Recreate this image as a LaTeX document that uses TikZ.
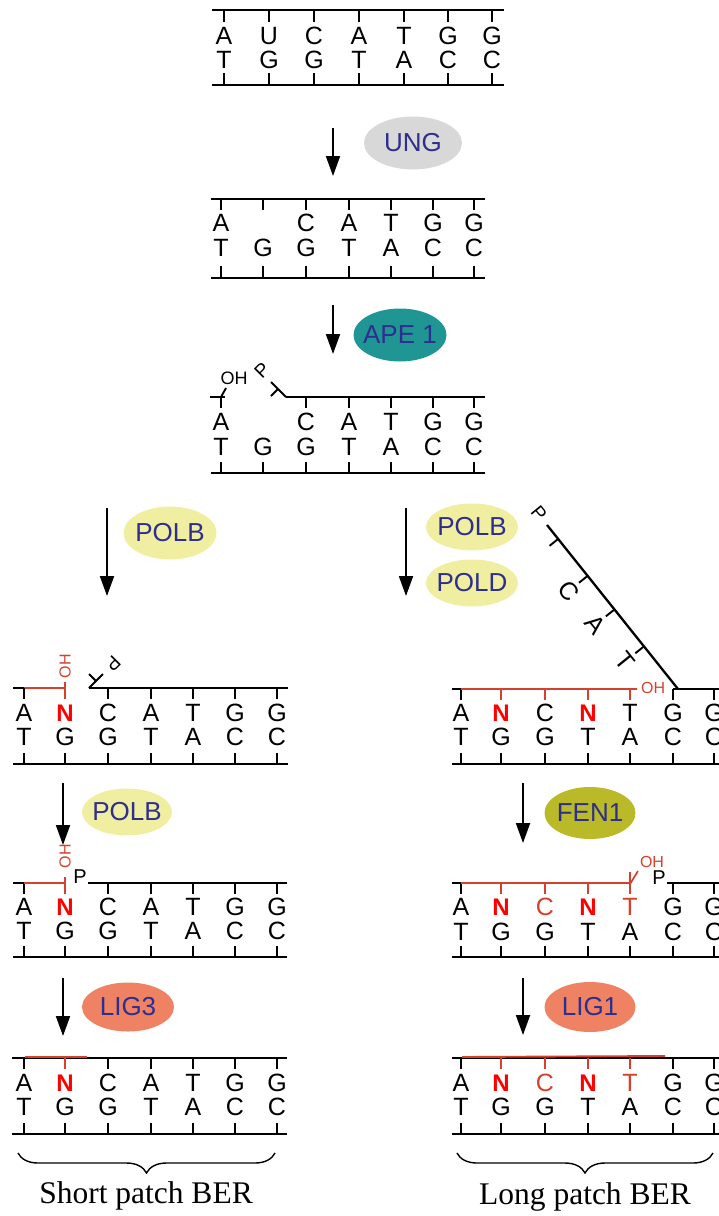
\documentclass[tikz,border=0pt]{standalone}
\usepackage{fontspec}
\setmainfont{Liberation Serif}
\newfontfamily\arial{Liberation Sans}
\usetikzlibrary{arrows.meta,decorations.pathreplacing,calc,shapes.geometric}
\definecolor{navy}{RGB}{46,46,140}
\definecolor{dnared}{RGB}{212,66,46}
\definecolor{unggray}{RGB}{216,216,216}
\definecolor{apeteal}{RGB}{32,150,148}
\definecolor{polyel}{RGB}{240,238,160}
\definecolor{fenolive}{RGB}{186,186,40}
\definecolor{ligsalmon}{RGB}{240,130,100}
\tikzset{
  strand/.style={line width=2.3pt},
  redstrand/.style={line width=1.9pt, draw=dnared},
  btick/.style={line width=1.9pt},
  rtick/.style={line width=1.7pt, draw=dnared},
  ntbase/.style={font=\arial\fontsize{25}{25}\selectfont, inner sep=0pt},
  ntnew/.style={font=\arial\bfseries\fontsize{24}{24}\selectfont, inner sep=0pt, text=red},
  ntred/.style={ntbase, text=dnared},
  ohlab/.style={font=\arial\fontsize{18}{18}\selectfont, inner sep=0pt},
  enzyme/.style={ellipse, inner sep=0pt, font=\arial\fontsize{26}{26}\selectfont, text=navy},
  rxn/.style={line width=1.9pt, -{Triangle[length=20pt,width=14pt]}},
  bracestyle/.style={line width=1.4pt, decorate, decoration={brace, mirror, amplitude=20pt}},
  patchlabel/.style={font=\fontsize{31.5}{32}\selectfont, inner sep=0pt}
}
\begin{document}
\begin{tikzpicture}[x=1pt,y=-1pt]
\useasboundingbox (0,0) rectangle (719,1216);

% ---------- Panel 1 ----------
\draw[strand] (212,10) -- (504,10);
\draw[strand] (212,85) -- (504,85);
\foreach \x/\t/\b [count=\i] in {224/A/T,269/U/G,314/C/G,359/A/T,404/T/A,448/G/C,492/G/C}{
  \node[ntbase] (pa\i) at (\x,36) {\t};
  \node[ntbase] (pb\i) at (\x,60) {\b};
  \draw[btick] (\x,10) -- (\x,22);
  \draw[btick] (\x,73) -- (\x,85);
}
\coordinate (a1s) at (333,128); \coordinate (a1e) at (333,176);
\draw[rxn] (a1s) -- (a1e);
\node[enzyme, fill=unggray, minimum width=98pt, minimum height=53pt] (ung) at (413,143) {\makebox[0pt]{UNG}};

% ---------- Panel 2 ----------
\draw[strand] (211,199) -- (485,199);
\draw[strand] (211,278) -- (485,278);
\foreach \x in {221,263,306,349,391,433,474}{
  \draw[btick] (\x,199) -- (\x,210);
  \draw[btick] (\x,266) -- (\x,278);
}
\foreach \x/\t [count=\i] in {221/A,306/C,349/A,391/T,433/G,474/G}
  \node[ntbase] (qa\i) at (\x,223) {\t};
\foreach \x/\b [count=\i] in {221/T,263/G,306/G,349/T,391/A,433/C,474/C}
  \node[ntbase] (qb\i) at (\x,248) {\b};
\coordinate (a2s) at (333,305); \coordinate (a2e) at (333,354);
\draw[rxn] (a2s) -- (a2e);
\node[enzyme, fill=apeteal, minimum width=93pt, minimum height=53pt] (ape) at (400,335) {\makebox[0pt]{APE 1}};

% ---------- Panel 3 ----------
\draw[strand] (286,397) -- (485,397);
\draw[strand] (210,397) -- (225,397);
\draw[strand] (211,473) -- (485,473);
\draw[btick] (221,397) -- (221,408);
\draw[btick] (221,397) -- (226,388);
\node[ohlab] (oh3) at (234,378) {OH};
\draw[btick] (286,397) -- (271,382);
\draw[btick] (278,389) -- (271,396);
\node[ohlab, font=\arial\fontsize{19}{19}\selectfont, rotate=45] (p3) at (262,370) {P};
\foreach \x in {306,349,391,433,474}
  \draw[btick] (\x,397) -- (\x,408);
\foreach \x in {221,263,306,349,391,433,474}
  \draw[btick] (\x,462) -- (\x,473);
\foreach \x/\t [count=\i] in {221/A,306/C,349/A,391/T,433/G,474/G}
  \node[ntbase] (ra\i) at (\x,422) {\t};
\foreach \x/\b [count=\i] in {221/T,263/G,306/G,349/T,391/A,433/C,474/C}
  \node[ntbase] (rb\i) at (\x,447) {\b};

% ---------- Branch arrows ----------
\coordinate (a3s) at (107,508); \coordinate (a3e) at (107,596);
\draw[rxn] (a3s) -- (a3e);
\node[enzyme, fill=polyel, minimum width=93pt, minimum height=53pt] (polbL) at (170,533) {\makebox[0pt]{POLB}};
\coordinate (a4s) at (406,508); \coordinate (a4e) at (406,596);
\draw[rxn] (a4s) -- (a4e);
\node[enzyme, fill=polyel, minimum width=92pt, minimum height=47pt] (polbR) at (472,527) {\makebox[0pt]{POLB}};
\node[enzyme, fill=polyel, minimum width=92pt, minimum height=47pt] (pold) at (472,583) {\makebox[0pt]{POLD}};

% ---------- Panel 4 left ----------
\draw[strand] (13,688) -- (24,688);
\draw[redstrand] (24,688) -- (65,688);
\draw[btick] (24,688) -- (24,699);
\draw[rtick] (65,682) -- (65,699);
\node[ohlab, text=dnared, font=\arial\fontsize{16}{16}\selectfont, rotate=90] (oh4l) at (65,666) {OH};
\draw[strand] (89,688) -- (288,688);
\draw[btick] (89,688) -- (103,674);
\draw[btick] (96,681) -- (89,674);
\node[ohlab, font=\arial\fontsize{19}{19}\selectfont, rotate=225] (p4l) at (113,664) {P};
\draw[strand] (13,764) -- (288,764);
\foreach \x in {108,151,193,235,277}
  \draw[btick] (\x,688) -- (\x,699);
\foreach \x in {24,65,108,151,193,235,277}
  \draw[btick] (\x,753) -- (\x,764);
\node[ntbase] (sa1) at (24,713) {A};
\node[ntnew] (sa2) at (65,713) {N};
\foreach \x/\t [count=\i from 3] in {108/C,151/A,193/T,235/G,277/G}
  \node[ntbase] (sa\i) at (\x,713) {\t};
\foreach \x/\b [count=\i] in {24/T,65/G,108/G,151/T,193/A,235/C,277/C}
  \node[ntbase] (sb\i) at (\x,737) {\b};

% ---------- Panel 4 right ----------
\draw[strand] (452,689) -- (461,689);
\draw[btick] (461,689) -- (461,700);
\draw[redstrand] (461,689) -- (637,689);
\foreach \x in {501,545,588,630}
  \draw[rtick] (\x,689) -- (\x,700);
\node[ohlab, text=dnared, font=\arial\fontsize{16}{16}\selectfont, anchor=west] (oh4r) at (641,688) {OH};
\draw[strand] (673,689) -- (719,689);
\foreach \x in {673,714}
  \draw[btick] (\x,689) -- (\x,700);
\draw[strand] (452,764) -- (719,764);
\foreach \x in {461,501,545,588,630,673,714}
  \draw[btick] (\x,753) -- (\x,764);
\node[ntbase] (ta1) at (461,713) {A};
\node[ntnew] (ta2) at (501,713) {N};
\node[ntbase] (ta3) at (545,713) {C};
\node[ntnew] (ta4) at (588,713) {N};
\node[ntbase] (ta5) at (630,713) {T};
\node[ntbase] (ta6) at (673,713) {G};
\node[ntbase] (ta7) at (714,713) {G};
\foreach \x/\b [count=\i] in {461/T,501/G,545/G,588/T,630/A,673/C,714/C}
  \node[ntbase] (tb\i) at (\x,737) {\b};
% flap
\coordinate (flA) at (678,689);
\coordinate (flB) at (547,525);
\draw[strand] (flA) -- (flB);
\node[ohlab, font=\arial\fontsize{19}{19}\selectfont, rotate=-51] (pfl) at (539,513) {P};
\foreach \f/\t [count=\i] in {0.26/T,0.485/A,0.69/C}{
  \coordinate (fl\i) at ($(flA)!\f!(flB)$);
  \draw[btick] (fl\i) -- ++(-8.6,6.9);
  \node[ntbase, rotate=-51] (flt\i) at ($(fl\i)+(-19,15)$) {\t};
}
\coordinate (fl4) at ($(flA)!0.915!(flB)$);
\draw[btick] (fl4) -- ++(-8.6,6.9);

% ---------- step 2 arrows ----------
\coordinate (a5s) at (63,783); \coordinate (a5e) at (63,845);
\draw[rxn] (a5s) -- (a5e);
\node[enzyme, fill=polyel, minimum width=90pt, minimum height=47pt] (polb2) at (127,812) {\makebox[0pt]{POLB}};
\coordinate (a6s) at (523,783); \coordinate (a6e) at (523,843);
\draw[rxn] (a6s) -- (a6e);
\node[enzyme, fill=fenolive, minimum width=91pt, minimum height=52pt] (fen) at (590,813) {\makebox[0pt]{FEN1}};

% ---------- Panel 5 left ----------
\draw[strand] (13,883) -- (24,883);
\draw[btick] (24,883) -- (24,894);
\draw[redstrand] (24,883) -- (65,883);
\draw[rtick] (65,877) -- (65,894);
\node[ohlab, text=dnared, font=\arial\fontsize{16}{16}\selectfont, rotate=90] (oh5l) at (65,856) {OH};
\node[ohlab, font=\arial\fontsize{20}{20}\selectfont] (p5l) at (80,877) {P};
\draw[strand] (88,883) -- (287,883);
\foreach \x in {108,151,193,235,277}
  \draw[btick] (\x,883) -- (\x,894);
\draw[strand] (13,957) -- (287,957);
\foreach \x in {24,65,108,151,193,235,277}
  \draw[btick] (\x,946) -- (\x,957);
\node[ntbase] (ua1) at (24,907) {A};
\node[ntnew] (ua2) at (65,907) {N};
\foreach \x/\t [count=\i from 3] in {108/C,151/A,193/T,235/G,277/G}
  \node[ntbase] (ua\i) at (\x,907) {\t};
\foreach \x/\b [count=\i] in {24/T,65/G,108/G,151/T,193/A,235/C,277/C}
  \node[ntbase] (ub\i) at (\x,931) {\b};

% ---------- Panel 5 right ----------
\draw[strand] (452,883) -- (461,883);
\draw[btick] (461,883) -- (461,894);
\draw[redstrand] (461,883) -- (630,883);
\foreach \x in {501,545,588}
  \draw[rtick] (\x,883) -- (\x,894);
\draw[rtick] (630,872) -- (630,894);
\draw[rtick] (630,884) -- (638,871);
\node[ohlab, text=dnared, font=\arial\fontsize{16}{16}\selectfont] (oh5r) at (652,862) {OH};
\node[ohlab, font=\arial\fontsize{20}{20}\selectfont] (p5r) at (659,878) {P};
\draw[strand] (667,883) -- (719,883);
\foreach \x in {673,714}
  \draw[btick] (\x,883) -- (\x,894);
\draw[strand] (452,957) -- (719,957);
\foreach \x in {461,501,545,588,630,673,714}
  \draw[btick] (\x,946) -- (\x,957);
\node[ntbase] (va1) at (461,907) {A};
\node[ntnew] (va2) at (501,907) {N};
\node[ntred] (va3) at (545,907) {C};
\node[ntnew] (va4) at (588,907) {N};
\node[ntred] (va5) at (630,907) {T};
\node[ntbase] (va6) at (673,907) {G};
\node[ntbase] (va7) at (714,907) {G};
\foreach \x/\b [count=\i] in {461/T,501/G,545/G,588/T,630/A,673/C,714/C}
  \node[ntbase] (vb\i) at (\x,932) {\b};

% ---------- step 3 arrows ----------
\coordinate (a7s) at (63,978); \coordinate (a7e) at (63,1036);
\draw[rxn] (a7s) -- (a7e);
\node[enzyme, fill=ligsalmon, minimum width=92pt, minimum height=49pt] (lig3) at (128,1007) {\makebox[0pt]{LIG3}};
\coordinate (a8s) at (523,978); \coordinate (a8e) at (523,1035);
\draw[rxn] (a8s) -- (a8e);
\node[enzyme, fill=ligsalmon, minimum width=91pt, minimum height=50pt] (lig1) at (590,1007) {\makebox[0pt]{LIG1}};

% ---------- Panel 6 left ----------
\draw[strand] (12,1058) -- (287,1058);
\draw[redstrand] (25,1057) -- (87,1057);
\foreach \x in {24,108,151,193,235,277}
  \draw[btick] (\x,1058) -- (\x,1069);
\draw[rtick] (65,1058) -- (65,1069);
\draw[strand] (12,1134) -- (287,1134);
\foreach \x in {24,65,108,151,193,235,277}
  \draw[btick] (\x,1123) -- (\x,1134);
\node[ntbase] (wa1) at (24,1083) {A};
\node[ntnew] (wa2) at (65,1083) {N};
\foreach \x/\t [count=\i from 3] in {108/C,151/A,193/T,235/G,277/G}
  \node[ntbase] (wa\i) at (\x,1083) {\t};
\foreach \x/\b [count=\i] in {24/T,65/G,108/G,151/T,193/A,235/C,277/C}
  \node[ntbase] (wb\i) at (\x,1107) {\b};

% ---------- Panel 6 right ----------
\draw[strand] (452,1058) -- (719,1058);
\draw[redstrand] (462,1057) -- (665,1056);
\foreach \x in {461,673,714}
  \draw[btick] (\x,1058) -- (\x,1069);
\foreach \x in {501,545,588,630}
  \draw[rtick] (\x,1058) -- (\x,1069);
\draw[strand] (452,1134) -- (719,1134);
\foreach \x in {461,501,545,588,630,673,714}
  \draw[btick] (\x,1123) -- (\x,1134);
\node[ntbase] (xa1) at (461,1083) {A};
\node[ntnew] (xa2) at (501,1083) {N};
\node[ntred] (xa3) at (545,1083) {C};
\node[ntnew] (xa4) at (588,1083) {N};
\node[ntred] (xa5) at (630,1083) {T};
\node[ntbase] (xa6) at (673,1083) {G};
\node[ntbase] (xa7) at (714,1083) {G};
\foreach \x/\b [count=\i] in {461/T,501/G,545/G,588/T,630/A,673/C,714/C}
  \node[ntbase] (xb\i) at (\x,1107) {\b};

% ---------- Braces and labels ----------
\coordinate (brLs) at (18,1153); \coordinate (brLe) at (275,1153);
\draw[bracestyle] (brLs) -- (brLe);
\node[patchlabel] (shortlab) at (146,1196) {Short patch BER};
\coordinate (brRs) at (457,1153); \coordinate (brRe) at (713,1153);
\draw[bracestyle] (brRs) -- (brRe);
\node[patchlabel] (longlab) at (585,1197) {Long patch BER};
\end{tikzpicture}
\end{document}
